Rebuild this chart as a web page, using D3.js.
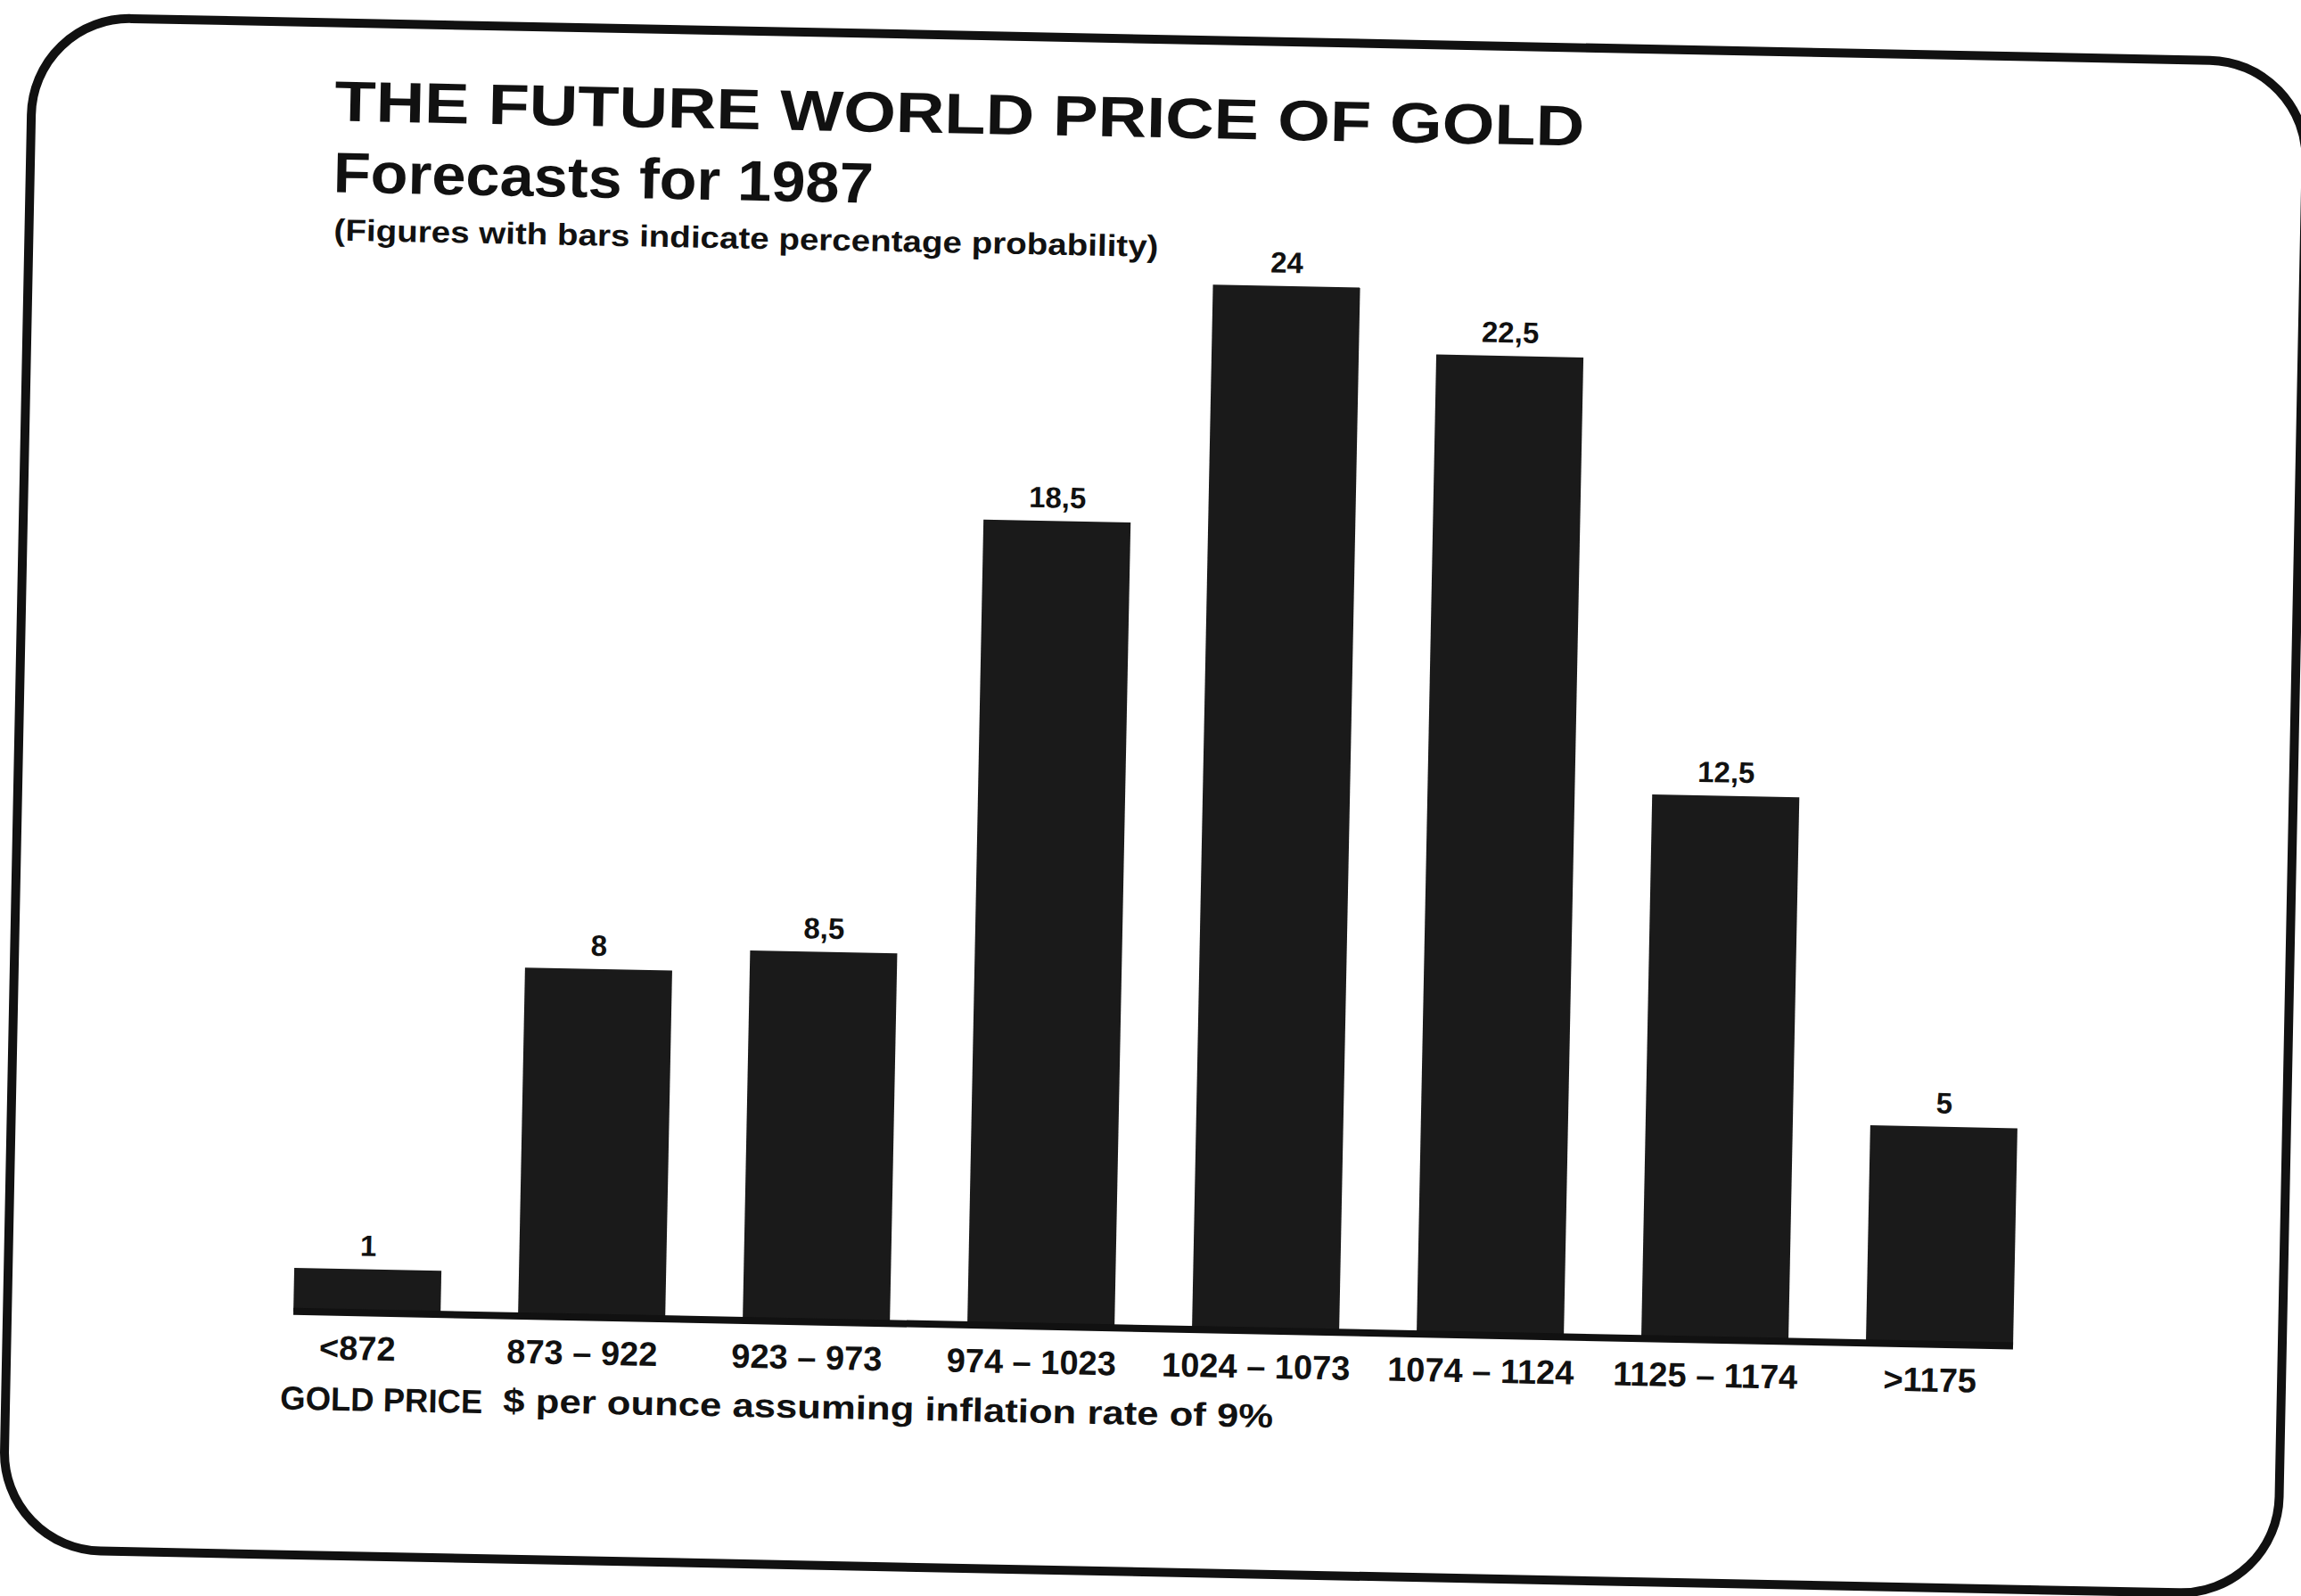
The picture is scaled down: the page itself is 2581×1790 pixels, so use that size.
<!DOCTYPE html>
<html>
<head>
<meta charset="utf-8">
<script src="https://cdn.jsdelivr.net/npm/d3@7/dist/d3.min.js"></script>
<style>
  html, body { margin: 0; padding: 0; background: #fff; }
  svg { display: block; }
  text { font-family: "Liberation Sans", Arial, Helvetica, sans-serif; font-weight: bold; fill: #111; }
</style>
</head>
<body>
<svg id="chart"></svg>
<script>
// price bands ($ per ounce) and probability (%) of each
var categories = ["<872", "873 \u2013 922", "923 \u2013 973", "974 \u2013 1023",
  "1024 \u2013 1073", "1074 \u2013 1124", "1125 \u2013 1174", ">1175"];
var probabilities = [1, 8, 8.5, 18.5, 24, 22.5, 12.5, 5];

var title = "THE FUTURE WORLD PRICE OF GOLD";
var subtitle = "Forecasts for 1987";
var note = "(Figures with bars indicate percentage probability)";
var axisName = "GOLD PRICE";
var axisUnit = "$ per ounce assuming inflation rate of 9%";

(function () {
  'use strict';

  var width = 2581, height = 1790;
  var cx = 1290, cy = 895;
  var tilt = 1.15; // the scanned page is a little crooked

  var svg = d3.select("#chart")
    .attr("width", width)
    .attr("height", height);

  svg.append("rect")
    .attr("width", width)
    .attr("height", height)
    .attr("fill", "#fff");

  var page = svg.append("g")
    .attr("transform", "rotate(" + tilt + "," + cx + "," + cy + ")");

  // rounded frame round the chart
  page.append("rect")
    .attr("x", 20)
    .attr("y", 44)
    .attr("width", 2552)
    .attr("height", 1719)
    .attr("rx", 110)
    .attr("ry", 110)
    .attr("fill", "none")
    .attr("stroke", "#111")
    .attr("stroke-width", 10);

  // titles
  page.append("text")
    .attr("x", 360)
    .attr("y", 154)
    .attr("font-size", 64)
    .attr("textLength", 1402)
    .attr("lengthAdjust", "spacingAndGlyphs")
    .text(title);

  page.append("text")
    .attr("x", 360)
    .attr("y", 234)
    .attr("font-size", 64)
    .attr("textLength", 606)
    .attr("lengthAdjust", "spacingAndGlyphs")
    .text(subtitle);

  page.append("text")
    .attr("x", 362)
    .attr("y", 288)
    .attr("font-size", 34)
    .attr("textLength", 925)
    .attr("lengthAdjust", "spacingAndGlyphs")
    .text(note);

  // escalas
  var x = d3.scaleBand()
    .domain(categories)
    .range([298, 2313])
    .paddingInner(0.345)
    .paddingOuter(0.17);

  var y = d3.scaleLinear()
    .domain([0, 24])
    .range([1490, 318]);

  var fmt = d3.formatLocale({ decimal: ",", thousands: ".", grouping: [3], currency: ["", ""] }).format("~g");

  var data = categories.map(function (c, i) {
    return { band: c, value: probabilities[i] };
  });

  page.append("g")
    .selectAll("rect")
    .data(data)
    .join("rect")
    .attr("x", function (d) { return x(d.band); })
    .attr("y", function (d) { return y(d.value); })
    .attr("width", x.bandwidth())
    .attr("height", function (d) { return y(0) - y(d.value); })
    .attr("fill", "#1a1a1a");

  // thick base line under the bars
  page.append("line")
    .attr("x1", x(categories[0]))
    .attr("x2", x(categories[categories.length - 1]) + x.bandwidth())
    .attr("y1", y(0))
    .attr("y2", y(0))
    .attr("stroke", "#111")
    .attr("stroke-width", 8);

  // percentages above the bars
  page.append("g")
    .selectAll("text")
    .data(data)
    .join("text")
    .attr("x", function (d) { return x(d.band) + x.bandwidth() / 2; })
    .attr("y", function (d) { return y(d.value) - 15; })
    .attr("text-anchor", "middle")
    .attr("font-size", 33)
    .text(function (d) { return fmt(d.value); });

  // price bands under the bars
  var axis = d3.axisBottom(x).tickSize(0).tickPadding(0);
  var axisG = page.append("g")
    .attr("transform", "translate(-10," + 1543 + ")")
    .call(axis);
  axisG.select(".domain").remove();
  axisG.selectAll("text")
    .attr("dy", 0)
    .attr("y", 0)
    .attr("font-size", 38)
    .attr("fill", "#111")
    .attr("font-family", null);

  page.append("text")
    .attr("x", 328)
    .attr("y", 1600)
    .attr("font-size", 37)
    .attr("textLength", 227)
    .attr("lengthAdjust", "spacingAndGlyphs")
    .text(axisName);

  page.append("text")
    .attr("x", 578)
    .attr("y", 1598)
    .attr("font-size", 37)
    .attr("textLength", 864)
    .attr("lengthAdjust", "spacingAndGlyphs")
    .text(axisUnit);

}());
</script>
</body>
</html>
